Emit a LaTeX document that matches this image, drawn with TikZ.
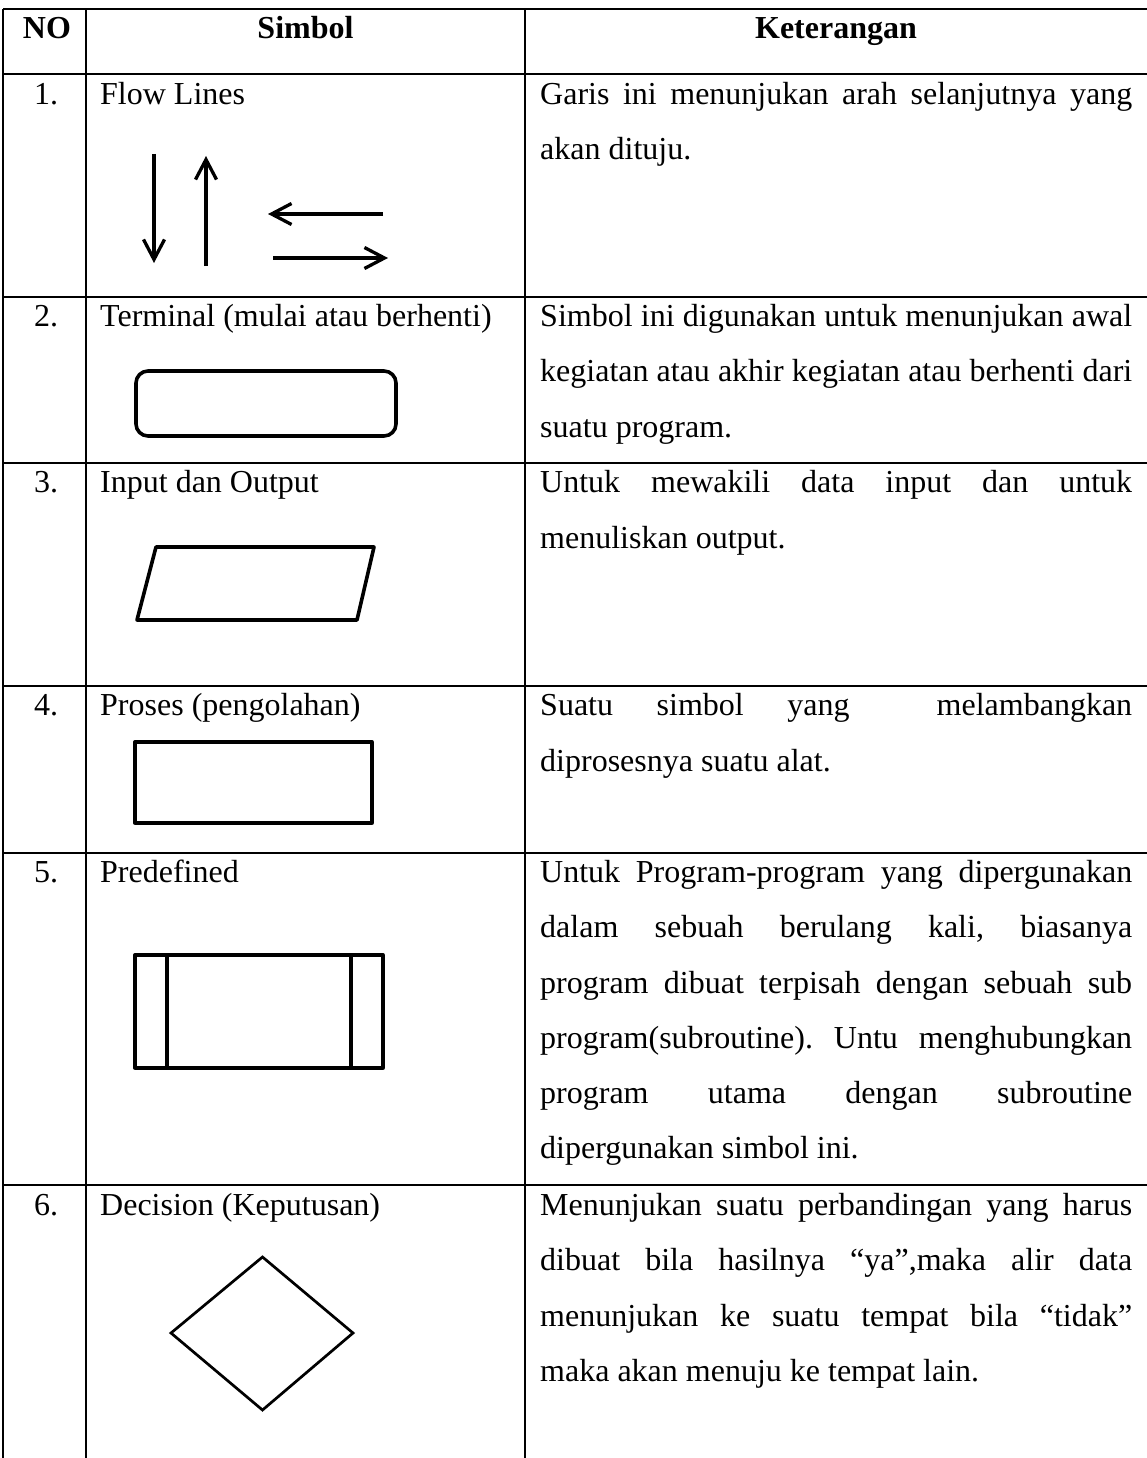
\documentclass[tikz,border=0pt]{standalone}
\usepackage{fontspec}
\setmainfont{Liberation Serif}
\usetikzlibrary{arrows.meta}
\newcommand{\justline}[1]{\makebox[592pt][s]{#1}}
\frenchspacing
\begin{document}
\begin{tikzpicture}[x=1pt,y=-1pt,
  tbl/.style={line width=2pt},
  sym/.style={line width=3.3pt, line join=round},
  flow/.style={line width=3.3pt, -{Straight Barb[length=20pt,width=21pt]}},
  txt/.style={anchor=base west, inner sep=0pt, font=\fontsize{32}{55.4}\selectfont},
  hd/.style={anchor=base, inner sep=0pt, font=\fontsize{32}{40}\selectfont\bfseries},
  num/.style={anchor=base, inner sep=0pt, font=\fontsize{32}{40}\selectfont}]
\useasboundingbox[fill=white] (0,0) rectangle (1147,1458);
% table grid
\foreach \yy in {9,74,297,463,686,853,1185}
  \draw[tbl] (3,\yy) -- (1147,\yy);
\foreach \xx in {3,86,525}
  \draw[tbl] (\xx,9) -- (\xx,1458);
% header
\node[hd] (hNO) at (47,38.5) {NO};
\node[hd] (hSim) at (305.5,38.5) {Simbol};
\node[hd] (hKet) at (836,38.5) {Keterangan};
% numbers
\node[num] (n1) at (46,104.5) {1.};
\node[num] (n2) at (46,326) {2.};
\node[num] (n3) at (46,492) {3.};
\node[num] (n4) at (46,715) {4.};
\node[num] (n5) at (46,882) {5.};
\node[num] (n6) at (46,1215) {6.};
% symbol names
\node[txt] (s1) at (100,104.5) {Flow Lines};
\node[txt] (s2) at (100,326) {Terminal (mulai atau berhenti)};
\node[txt] (s3) at (100,492) {Input dan Output};
\node[txt] (s4) at (100,715) {Proses (pengolahan)};
\node[txt] (s5) at (100,882) {Predefined};
\node[txt] (s6) at (100,1215) {Decision (Keputusan)};
% descriptions
\node[txt] (k1a) at (540,104.5) {\justline{Garis ini menunjukan arah selanjutnya yang}};
\node[txt] (k1b) at (540,160) {akan dituju.};
\node[txt] (k2a) at (540,326) {\justline{Simbol ini digunakan untuk menunjukan awal}};
\node[txt] (k2b) at (540,381.5) {\justline{kegiatan atau akhir kegiatan atau berhenti dari}};
\node[txt] (k2c) at (540,437) {suatu program.};
\node[txt] (k3a) at (540,492) {\justline{Untuk mewakili data input dan untuk}};
\node[txt] (k3b) at (540,548) {menuliskan output.};
\node[txt] (k4a) at (540,715) {\justline{Suatu simbol yang\ \ melambangkan}};
\node[txt] (k4b) at (540,771) {diprosesnya suatu alat.};
\node[txt] (k5a) at (540,882) {\justline{Untuk Program-program yang dipergunakan}};
\node[txt] (k5b) at (540,937.5) {\justline{dalam sebuah berulang kali, biasanya}};
\node[txt] (k5c) at (540,993) {\justline{program dibuat terpisah dengan sebuah sub}};
\node[txt] (k5d) at (540,1048) {\justline{program(subroutine). Untu menghubungkan}};
\node[txt] (k5e) at (540,1103) {\justline{program utama dengan subroutine}};
\node[txt] (k5f) at (540,1158.5) {dipergunakan simbol ini.};
\node[txt] (k6a) at (540,1215) {\justline{Menunjukan suatu perbandingan yang harus}};
\node[txt] (k6b) at (540,1270) {\justline{dibuat bila hasilnya “ya”,maka alir data}};
\node[txt] (k6c) at (540,1326) {\justline{menunjukan ke suatu tempat bila “tidak”}};
\node[txt] (k6d) at (540,1381) {maka akan menuju ke tempat lain.};
% 1. flow lines
\coordinate (d0) at (154,154); \coordinate (d1) at (154,263);
\coordinate (u0) at (206,266); \coordinate (u1) at (206,156);
\coordinate (l0) at (383,214); \coordinate (l1) at (268,214);
\coordinate (r0) at (273,258); \coordinate (r1) at (388,258);
\draw[flow] (d0) -- (d1);
\draw[flow] (u0) -- (u1);
\draw[flow] (l0) -- (l1);
\draw[flow] (r0) -- (r1);
% 2. terminal
\draw[sym, line width=3.6pt, rounded corners=12pt] (136,371) rectangle (396,436);
% 3. input/output
\draw[sym, line width=3.6pt] (156,547) -- (374,547) -- (357,620) -- (137,620) -- cycle;
% 4. process
\draw[sym] (135,742) rectangle (372,823);
% 5. predefined
\draw[sym] (135,955) rectangle (383,1068);
\draw[sym] (167,955) -- (167,1068);
\draw[sym] (351,955) -- (351,1068);
% 6. decision
\draw[sym, line width=2.7pt, line join=miter] (262.5,1257) -- (353,1333) -- (262.5,1410) -- (171,1333) -- cycle;
\end{tikzpicture}
\end{document}
